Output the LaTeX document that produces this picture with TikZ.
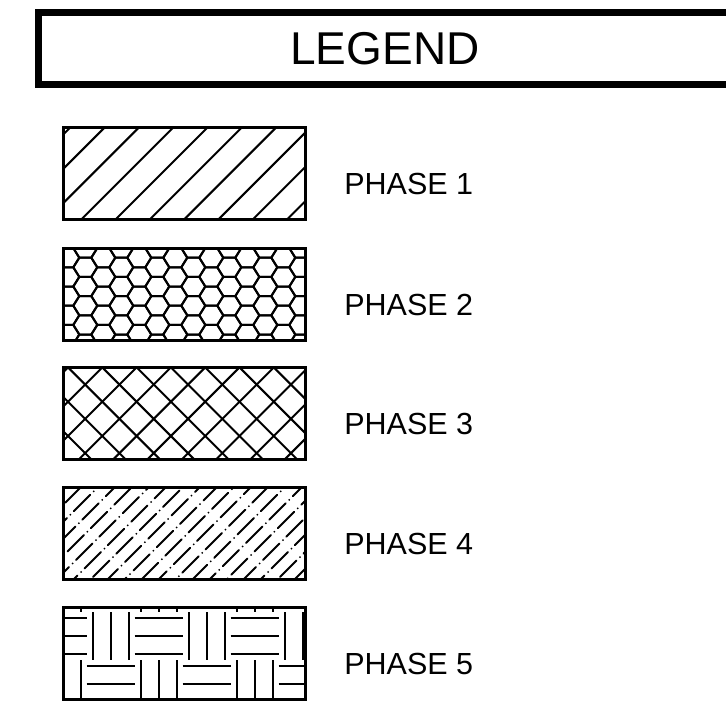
\documentclass[tikz,border=0pt]{standalone}
\usepackage{fontspec}
\setmainfont{Liberation Sans}
\usetikzlibrary{positioning}
\tikzstyle{title}  = [draw, line width=7pt, minimum width=693pt, minimum height=72pt, inner sep=0pt, font=\fontsize{46}{46}\selectfont]
\tikzstyle{frame}  = [draw, line width=2.2pt, minimum width=241pt, minimum height=91pt, inner sep=0pt]
\tikzstyle{phase}  = [inner sep=0pt, font=\fontsize{30.5}{30.5}\selectfont]
\tikzstyle{hatch}  = [line width=2pt]
\tikzstyle{dashdot} = [line width=2pt, line cap=round, dash pattern=on 23pt off 5pt on 0pt off 5pt]

\begin{document}
\begin{tikzpicture}[x=1pt,y=-1pt]
\useasboundingbox (0,0) rectangle (726,707);

% hlavička
\node[title] (legend) at (385,48.5) {LEGEND};

% rámečky
\node[frame] (p1) at (184.5,173.5) {};
\node[frame] (p2) at (184.5,294.5) {};
\node[frame] (p3) at (184.5,413.5) {};
\node[frame] (p4) at (184.5,533.5) {};
\node[frame] (p5) at (184.5,653.5) {};

% popisky
\node[phase, right=38pt of p1, yshift=-10.5pt] (l1) {PHASE\ 1};
\node[phase, right=38pt of p2, yshift=-10.5pt] (l2) {PHASE\ 2};
\node[phase, right=38pt of p3, yshift=-10.5pt] (l3) {PHASE\ 3};
\node[phase, right=38pt of p4, yshift=-10.5pt] (l4) {PHASE\ 4};
\node[phase, right=38pt of p5, yshift=-10.5pt] (l5) {PHASE\ 5};

% fáze 1 - šrafy
\begin{scope}
\clip (p1.south west) rectangle (p1.north east);
\foreach \x in {-21.2,13.1,...,310} \draw[hatch] (\x,219) -- ++(91,-91);
\end{scope}

% fáze 2 - šestiúhelníky
\begin{scope}
\clip (p2.south west) rectangle (p2.north east);
\foreach \x in {31.3,67.3,...,330} \foreach \y in {238.5,257.7,...,360}
  \draw[hatch, shift={(\x,\y)}] (-12,0) -- (-6,-9.6) -- (6,-9.6) -- (12,0) -- (6,9.6) -- (-6,9.6) -- cycle;
\foreach \x in {49.3,85.3,...,340} \foreach \y in {248.1,267.3,...,360}
  \draw[hatch, shift={(\x,\y)}] (-12,0) -- (-6,-9.6) -- (6,-9.6) -- (12,0) -- (6,9.6) -- (-6,9.6) -- cycle;
\end{scope}

% fáze 3 - mřížka
\begin{scope}
\clip (p3.south west) rectangle (p3.north east);
\foreach \x in {-23.6,10.7,...,310} \draw[hatch] (\x,459) -- ++(91,-91);
\foreach \x in {56.7,91,...,400} \draw[hatch] (\x,459) -- ++(-91,-91);
\end{scope}

% fáze 4 - čerchované šrafy
\begin{scope}
\clip (p4.south west) rectangle (p4.north east);
\foreach \x [count=\k] in {-28,-11,...,310}
  \draw[dashdot, dash phase=12*\k] (\x,579) -- ++(91,-91);
\end{scope}

% fáze 5 - parkety
\begin{scope}
\clip (p5.south west) rectangle (p5.north east);
\foreach \i in {0,...,5} \foreach \j in {-1,0,1} {
  \pgfmathsetmacro\cx{38.5+48*\i}
  \pgfmathsetmacro\cy{612+48*\j}
  \pgfmathtruncatemacro\odd{mod(\i+\j+2,2)}
  \ifnum\odd=1
    \foreach \d in {6,24,42} \draw[hatch] (\cx+\d,\cy) -- ++(0,48);
  \else
    \foreach \d in {6,24,42} \draw[hatch] (\cx,\cy+\d) -- ++(48,0);
  \fi
}
\end{scope}

% obrysy znovu navrch
\foreach \n in {p1,p2,p3,p4,p5} \draw[line width=2.2pt] (\n.south west) rectangle (\n.north east);

\end{tikzpicture}
\end{document}
